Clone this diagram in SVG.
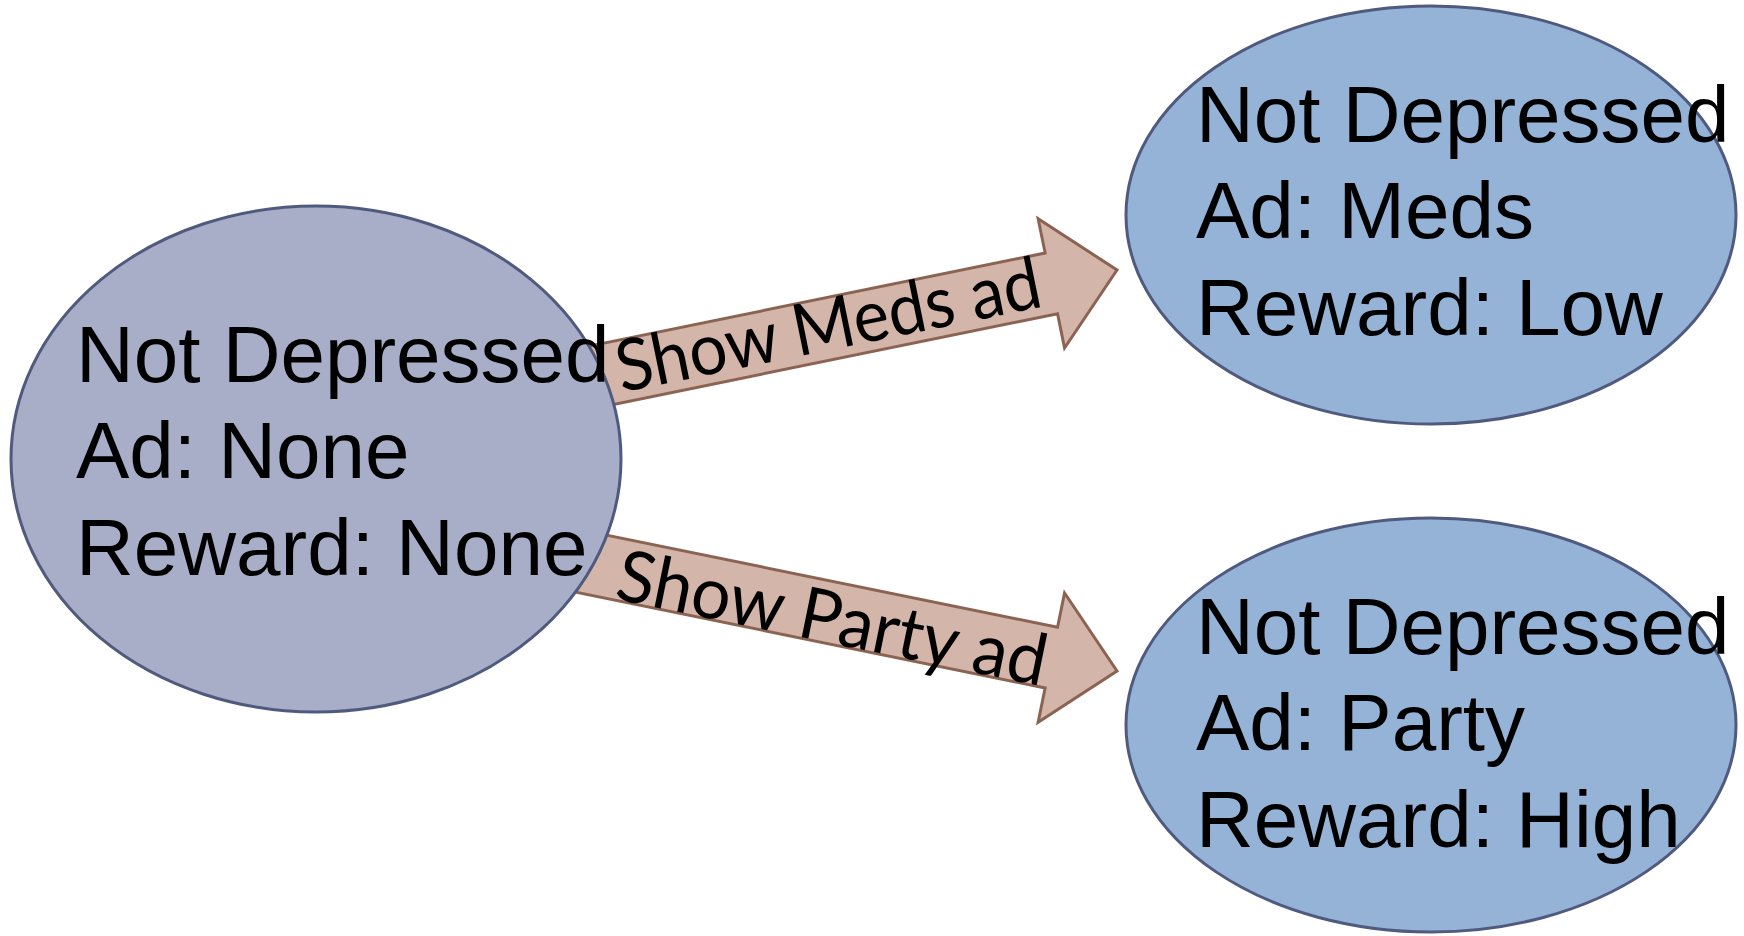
<svg xmlns="http://www.w3.org/2000/svg" width="1744" height="936" viewBox="0 0 1744 936">
  <style>
    .arrow { fill: #d3b5a9; stroke: #8b6352; stroke-width: 3; stroke-linejoin: miter; }
    .lbl { font-family: Lato, "Open Sans", "Liberation Sans", sans-serif; font-size: 72px; fill: #000; }
    .node-left { fill: #a8aec8; stroke: #4f5a7e; stroke-width: 3; }
    .node-right { fill: #95b3d7; stroke: #4f5a7e; stroke-width: 3; }
    .ntxt { font-family: "Liberation Sans", Arial, sans-serif; font-size: 80px; fill: #000; }
  </style>
  <rect width="1744" height="936" fill="#ffffff"/>
  <defs>
    <polygon id="blockArrow" points="-80,-31 453,-31 453,-66 520,0 453,66 453,31 -80,31"/>
  </defs>
  <g id="connectors">
    <g id="edge-meds" transform="translate(607.5,374) rotate(-11.54)">
      <use href="#blockArrow" class="arrow"/>
      <text class="lbl" x="10" y="21" textLength="432" lengthAdjust="spacingAndGlyphs">Show Meds ad</text>
    </g>
    <g id="edge-party" transform="translate(607.5,567) rotate(11.54)">
      <use href="#blockArrow" class="arrow"/>
      <text class="lbl" x="12" y="30" textLength="437" lengthAdjust="spacingAndGlyphs">Show Party ad</text>
    </g>
  </g>
  <g id="node-start">
    <ellipse class="node-left" cx="316" cy="459" rx="305" ry="253"/>
    <text class="ntxt" x="76" y="382">Not Depressed</text>
    <text class="ntxt" x="76" y="478">Ad: None</text>
    <text class="ntxt" x="76" y="575">Reward: None</text>
  </g>
  <g id="node-meds">
    <ellipse class="node-right" cx="1431" cy="215" rx="305" ry="209"/>
    <text class="ntxt" x="1196" y="142">Not Depressed</text>
    <text class="ntxt" x="1196" y="238">Ad: Meds</text>
    <text class="ntxt" x="1196" y="335">Reward: Low</text>
  </g>
  <g id="node-party">
    <ellipse class="node-right" cx="1431" cy="725" rx="305" ry="207"/>
    <text class="ntxt" x="1196" y="654">Not Depressed</text>
    <text class="ntxt" x="1196" y="750">Ad: Party</text>
    <text class="ntxt" x="1196" y="847">Reward: High</text>
  </g>
</svg>
